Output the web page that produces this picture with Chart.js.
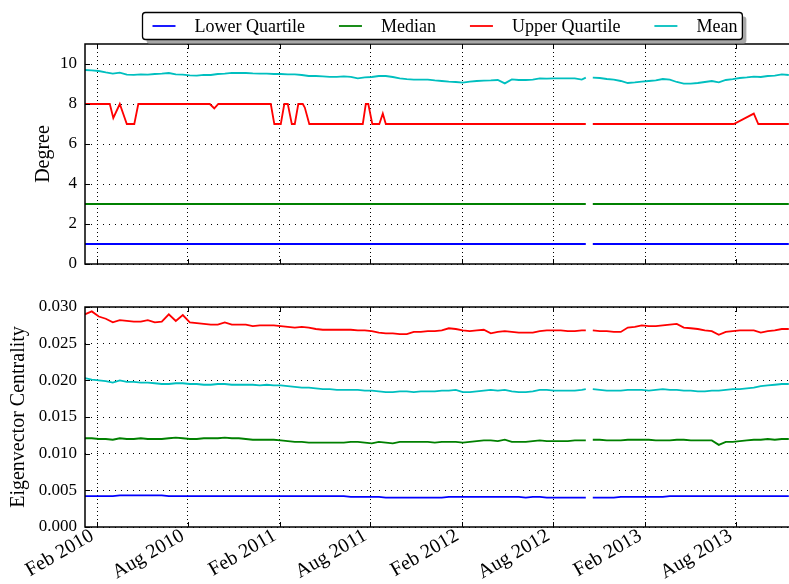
<!DOCTYPE html>
<html>
<head>
<meta charset="utf-8">
<script src="https://cdn.jsdelivr.net/npm/chart.js@4.4.1/dist/chart.umd.min.js"></script>
<style>
  html, body { margin: 0; padding: 0; background: #fff; overflow: hidden; }
  #degreeChart { position: absolute; left: 0; top: 0; }
  #centralityChart { position: absolute; left: 0; top: 290px; }
</style>
</head>
<body>
<canvas id="degreeChart" width="789" height="270"></canvas>
<canvas id="centralityChart" width="789" height="294"></canvas>
<script>
const seriesNames = ['Lower Quartile', 'Median', 'Upper Quartile', 'Mean'];
const seriesColors = ['#0000ff', '#008000', '#ff0000', '#00bfbf'];

// x axis is days since 1 Jan 2010
const tickDays = [31, 212, 396, 577, 761, 943, 1127, 1308];
const tickLabels = ['Feb 2010', 'Aug 2010', 'Feb 2011', 'Aug 2011', 'Feb 2012', 'Aug 2012', 'Feb 2013', 'Aug 2013'];

// fortnightly samples; day 1015 is the missing week (gap in every line)
const days = [
  6, 20, 34, 48, 62, 76, 90, 104, 118, 132,
  146, 160, 174, 188, 202, 216, 230, 244, 258, 272,
  286, 300, 314, 328, 342, 356, 370, 384, 398, 412,
  426, 440, 454, 468, 482, 496, 510, 524, 538, 552,
  566, 580, 594, 608, 622, 636, 650, 664, 678, 692,
  706, 720, 734, 748, 762, 776, 790, 804, 818, 832,
  846, 860, 874, 888, 902, 916, 930, 944, 958, 972,
  986, 1000, 1008,
  1015,
  1022, 1036, 1050, 1064, 1078, 1092, 1106, 1120, 1134, 1148,
  1162, 1176, 1190, 1204, 1218, 1232, 1246, 1260, 1274, 1288,
  1302, 1316, 1330, 1344, 1358, 1372, 1386, 1400, 1414
];

// Degree panel
const degMean = [
  9.70, 9.68, 9.65, 9.58, 9.52, 9.57, 9.47, 9.46, 9.48, 9.47,
  9.50, 9.52, 9.55, 9.48, 9.47, 9.43, 9.42, 9.46, 9.45, 9.50,
  9.52, 9.56, 9.55, 9.55, 9.53, 9.52, 9.52, 9.50, 9.50, 9.48,
  9.48, 9.45, 9.40, 9.40, 9.38, 9.36, 9.36, 9.38, 9.36, 9.28,
  9.33, 9.35, 9.40, 9.40, 9.35, 9.28, 9.24, 9.22, 9.22, 9.22,
  9.18, 9.15, 9.12, 9.10, 9.07, 9.12, 9.15, 9.17, 9.18, 9.20,
  9.03, 9.23, 9.20, 9.20, 9.22, 9.28, 9.27, 9.28, 9.28, 9.28,
  9.28, 9.22, 9.32,
  null,
  9.32, 9.30, 9.25, 9.22, 9.15, 9.05, 9.08, 9.12, 9.15, 9.18,
  9.25, 9.22, 9.10, 9.02, 9.02, 9.05, 9.10, 9.15, 9.08, 9.20,
  9.24, 9.30, 9.33, 9.37, 9.35, 9.40, 9.42, 9.48, 9.45
];
const degUpperDays = [6, 56, 63, 76, 90, 105, 113, 256, 265, 273, 378, 385, 398, 405, 412, 420, 426, 433,
  442, 446, 455, 562, 568, 573, 581, 595, 602, 608, 1008, 1015, 1022, 1304, 1344, 1353, 1414];
const degUpper = [8, 8, 7.3, 8, 7, 7, 8, 8, 7.78, 8, 8, 7, 7, 8, 8, 7, 7, 8,
  8, 7.82, 7, 7, 8, 8, 7, 7, 7.52, 7, 7, null, 7, 7, 7.52, 7, 7];
const degFlatDays = [6, 1008, 1015, 1022, 1414];
const degLower = [1, 1, null, 1, 1];
const degMedian = [3, 3, null, 3, 3];

// Eigenvector centrality panel
const ecLower = [
  0.0042, 0.0042, 0.0042, 0.0042, 0.0042, 0.0043, 0.0043, 0.0043, 0.0043, 0.0043,
  0.0043, 0.0043, 0.0042, 0.0042, 0.0042, 0.0042, 0.0042, 0.0042, 0.0042, 0.0042,
  0.0042, 0.0042, 0.0042, 0.0042, 0.0042, 0.0042, 0.0042, 0.0042, 0.0042, 0.0042,
  0.0042, 0.0042, 0.0042, 0.0042, 0.0042, 0.0042, 0.0042, 0.0042, 0.0041, 0.0041,
  0.0041, 0.0041, 0.0041, 0.0040, 0.0040, 0.0040, 0.0040, 0.0040, 0.0040, 0.0040,
  0.0040, 0.0040, 0.0041, 0.0041, 0.0041, 0.0041, 0.0041, 0.0041, 0.0041, 0.0041,
  0.0041, 0.0041, 0.0041, 0.0040, 0.0041, 0.0041, 0.0040, 0.0040, 0.0040, 0.0040,
  0.0040, 0.0040, 0.0040,
  null,
  0.0040, 0.0040, 0.0040, 0.0040, 0.0041, 0.0041, 0.0041, 0.0041, 0.0041, 0.0041,
  0.0041, 0.0042, 0.0042, 0.0042, 0.0042, 0.0042, 0.0042, 0.0042, 0.0042, 0.0042,
  0.0042, 0.0042, 0.0042, 0.0042, 0.0042, 0.0042, 0.0042, 0.0042, 0.0042
];
const ecMedian = [
  0.0121, 0.0121, 0.0120, 0.0120, 0.0119, 0.0121, 0.0120, 0.0120, 0.0121, 0.0120,
  0.0120, 0.0120, 0.0121, 0.0122, 0.0121, 0.0120, 0.0120, 0.0121, 0.0121, 0.0121,
  0.0122, 0.0121, 0.0121, 0.0120, 0.0119, 0.0119, 0.0119, 0.0119, 0.0118, 0.0117,
  0.0116, 0.0116, 0.0115, 0.0115, 0.0115, 0.0115, 0.0115, 0.0115, 0.0116, 0.0116,
  0.0115, 0.0114, 0.0116, 0.0115, 0.0114, 0.0116, 0.0116, 0.0116, 0.0116, 0.0116,
  0.0115, 0.0116, 0.0116, 0.0116, 0.0115, 0.0116, 0.0117, 0.0118, 0.0118, 0.0117,
  0.0119, 0.0116, 0.0116, 0.0116, 0.0117, 0.0118, 0.0117, 0.0117, 0.0117, 0.0117,
  0.0118, 0.0118, 0.0118,
  null,
  0.0119, 0.0119, 0.0118, 0.0118, 0.0118, 0.0119, 0.0119, 0.0119, 0.0119, 0.0118,
  0.0118, 0.0118, 0.0119, 0.0119, 0.0118, 0.0118, 0.0118, 0.0118, 0.0112, 0.0116,
  0.0116, 0.0117, 0.0118, 0.0119, 0.0119, 0.0120, 0.0119, 0.0120, 0.0120
];
const ecUpper = [
  0.0290, 0.0294, 0.0287, 0.0284, 0.0279, 0.0282, 0.0281, 0.0280, 0.0280, 0.0282,
  0.0279, 0.0280, 0.0290, 0.0281, 0.0289, 0.0279, 0.0278, 0.0277, 0.0276, 0.0276,
  0.0279, 0.0276, 0.0276, 0.0276, 0.0274, 0.0275, 0.0275, 0.0275, 0.0274, 0.0273,
  0.0272, 0.0273, 0.0272, 0.0270, 0.0269, 0.0269, 0.0269, 0.0269, 0.0269, 0.0268,
  0.0268, 0.0267, 0.0265, 0.0264, 0.0264, 0.0263, 0.0263, 0.0266, 0.0266, 0.0267,
  0.0267, 0.0268, 0.0271, 0.0270, 0.0268, 0.0267, 0.0268, 0.0269, 0.0264, 0.0266,
  0.0267, 0.0266, 0.0265, 0.0265, 0.0265, 0.0267, 0.0268, 0.0268, 0.0268, 0.0267,
  0.0267, 0.0268, 0.0268,
  null,
  0.0268, 0.0267, 0.0267, 0.0266, 0.0266, 0.0272, 0.0273, 0.0275, 0.0274, 0.0274,
  0.0275, 0.0276, 0.0277, 0.0272, 0.0271, 0.0270, 0.0268, 0.0267, 0.0262, 0.0266,
  0.0267, 0.0268, 0.0268, 0.0268, 0.0265, 0.0267, 0.0268, 0.0270, 0.0270
];
const ecMean = [
  0.0203, 0.0201, 0.0200, 0.0199, 0.0197, 0.0200, 0.0198, 0.0198, 0.0197, 0.0197,
  0.0196, 0.0195, 0.0195, 0.0196, 0.0196, 0.0195, 0.0195, 0.0194, 0.0194, 0.0195,
  0.0195, 0.0194, 0.0194, 0.0194, 0.0194, 0.0193, 0.0194, 0.0193, 0.0193, 0.0192,
  0.0191, 0.0190, 0.0190, 0.0189, 0.0188, 0.0188, 0.0187, 0.0187, 0.0187, 0.0187,
  0.0186, 0.0186, 0.0185, 0.0184, 0.0184, 0.0185, 0.0185, 0.0184, 0.0185, 0.0185,
  0.0185, 0.0186, 0.0186, 0.0187, 0.0184, 0.0184, 0.0185, 0.0186, 0.0187, 0.0186,
  0.0187, 0.0185, 0.0184, 0.0184, 0.0185, 0.0187, 0.0187, 0.0186, 0.0186, 0.0186,
  0.0186, 0.0187, 0.0188,
  null,
  0.0188, 0.0187, 0.0186, 0.0186, 0.0186, 0.0187, 0.0187, 0.0187, 0.0186, 0.0187,
  0.0188, 0.0187, 0.0187, 0.0186, 0.0186, 0.0185, 0.0185, 0.0186, 0.0186, 0.0187,
  0.0188, 0.0188, 0.0189, 0.0190, 0.0192, 0.0193, 0.0194, 0.0195, 0.0195
];

const degTicks = [0, 2, 4, 6, 8, 10];
const ecTicks = [0, 0.005, 0.010, 0.015, 0.020, 0.025, 0.030];

Chart.defaults.font.family = '"Liberation Serif", "Times New Roman", serif';
Chart.defaults.font.size = 17;
Chart.defaults.color = '#000';

function line(label, color, xs, ys) {
  return {
    label,
    data: xs.map((x, i) => ({ x, y: ys[i] })),
    borderColor: color,
    borderWidth: 1.8,
    pointRadius: 0,
    fill: false,
    tension: 0,
    spanGaps: false
  };
}

// matplotlib-style box: full frame plus inward tick marks
const framePlugin = {
  id: 'frame',
  afterDatasetsDraw(chart) {
    const { ctx, chartArea: a, scales } = chart;
    ctx.save();
    ctx.strokeStyle = '#000';
    ctx.lineWidth = 1;
    ctx.beginPath();
    scales.x.ticks.forEach(t => {
      const px = Math.round(scales.x.getPixelForValue(t.value)) + 0.5;
      ctx.moveTo(px, a.top); ctx.lineTo(px, a.top + 5);
      ctx.moveTo(px, a.bottom); ctx.lineTo(px, a.bottom - 5);
    });
    scales.y.ticks.forEach(t => {
      const py = Math.round(scales.y.getPixelForValue(t.value)) + 0.5;
      ctx.moveTo(a.left, py); ctx.lineTo(a.left + 5, py);
    });
    ctx.stroke();
    ctx.lineWidth = 1.5;
    ctx.strokeRect(a.left, a.top, a.right - a.left + 4, a.bottom - a.top);
    ctx.restore();
  }
};

const legendPlugin = {
  id: 'boxLegend',
  afterDraw(chart) {
    const ctx = chart.ctx;
    ctx.save();
    ctx.font = '18px "Liberation Serif", serif';
    const widths = seriesNames.map(n => ctx.measureText(n).width);
    const lineLen = 23, lineGap = 19, entryGap = 34, padL = 10, padR = 5;
    const total = padL + padR + widths.reduce((s, w) => s + lineLen + lineGap + w, 0) + entryGap * (seriesNames.length - 1);
    const left = Math.round(442 - total / 2) + 0.5, top = 12.5, h = 27;
    ctx.fillStyle = '#a8a8a8';
    ctx.beginPath();
    ctx.roundRect(left + 4, top + 4, total, h, 3);
    ctx.fill();
    ctx.fillStyle = '#fff';
    ctx.strokeStyle = '#000';
    ctx.lineWidth = 1.3;
    ctx.beginPath();
    ctx.roundRect(left, top, total, h, 3);
    ctx.fill();
    ctx.stroke();
    let x = left + padL;
    const cy = top + h / 2;
    seriesNames.forEach((n, i) => {
      ctx.strokeStyle = seriesColors[i];
      ctx.lineWidth = 1.8;
      ctx.beginPath();
      ctx.moveTo(x, cy); ctx.lineTo(x + lineLen, cy);
      ctx.stroke();
      ctx.fillStyle = '#000';
      ctx.textBaseline = 'middle';
      ctx.fillText(n, x + lineLen + lineGap, cy + 1);
      x += lineLen + lineGap + widths[i] + entryGap;
    });
    ctx.restore();
  }
};

function makeOptions(yMax, yTicks, yTitle, titlePad, fmt, showX, padTop) {
  return {
    responsive: false,
    animation: false,
    events: [],
    layout: { padding: { top: padTop, left: 0, right: 0, bottom: 0 } },
    plugins: { legend: { display: false }, tooltip: { enabled: false } },
    scales: {
      x: {
        type: 'linear',
        min: 6.4,
        max: 1414.4,
        afterBuildTicks: s => { s.ticks = tickDays.map(v => ({ value: v })); },
        afterFit: s => {
          s.height = showX ? 57 : 6;
          s.paddingLeft = 0; s.paddingRight = 0;
        },
        grid: { color: '#000', lineWidth: 1, drawTicks: false },
        border: { display: false, dash: [1, 3] },
        ticks: {
          display: showX,
          autoSkip: false,
          minRotation: 30,
          maxRotation: 30,
          padding: -3,
          labelOffset: -5,
          font: { size: 20 },
          callback: (v, i) => tickLabels[i]
        }
      },
      y: {
        min: 0,
        max: yMax,
        afterBuildTicks: s => { s.ticks = yTicks.map(v => ({ value: v })); },
        afterFit: s => {
          s.width = 85;
          s.paddingTop = 0; s.paddingBottom = 0;
        },
        grid: { color: '#000', lineWidth: 1, drawTicks: false },
        border: { display: false, dash: [1, 5] },
        ticks: { padding: 8, callback: fmt },
        title: { display: true, text: yTitle, font: { size: 20 }, padding: { top: titlePad, bottom: 0 } }
      }
    }
  };
}

new Chart(document.getElementById('degreeChart'), {
  type: 'line',
  data: {
    datasets: [
      line(seriesNames[0], seriesColors[0], degFlatDays, degLower),
      line(seriesNames[1], seriesColors[1], degFlatDays, degMedian),
      line(seriesNames[2], seriesColors[2], degUpperDays, degUpper),
      line(seriesNames[3], seriesColors[3], days, degMean)
    ]
  },
  options: makeOptions(11, degTicks, 'Degree', 32, v => String(v), false, 44),
  plugins: [framePlugin, legendPlugin]
});

new Chart(document.getElementById('centralityChart'), {
  type: 'line',
  data: {
    datasets: [
      line(seriesNames[0], seriesColors[0], days, ecLower),
      line(seriesNames[1], seriesColors[1], days, ecMedian),
      line(seriesNames[2], seriesColors[2], days, ecUpper),
      line(seriesNames[3], seriesColors[3], days, ecMean)
    ]
  },
  options: makeOptions(0.030, ecTicks, 'Eigenvector Centrality', 7, v => v.toFixed(3), true, 17),
  plugins: [framePlugin]
});
</script>
</body>
</html>
